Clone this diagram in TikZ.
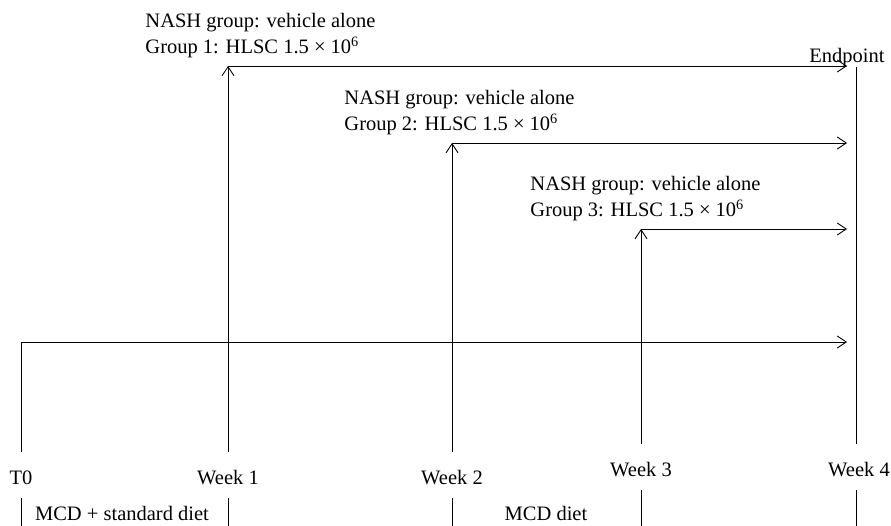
\documentclass[tikz,border=0pt]{standalone}
\usepackage{fontspec}
\setmainfont{Liberation Serif}
\usetikzlibrary{arrows.meta}
\begin{document}
\begin{tikzpicture}[
    x=1pt,y=-1pt,line width=.9pt,
    every node/.style={font=\fontsize{20.5}{25}\selectfont,inner sep=0pt},
    tip/.style={-{Straight Barb[length=9pt,width=12pt]}}]
    \useasboundingbox (0,0) rectangle (891,526);
    \foreach \name/\x/\tx/\lo/\bar/\txt in
        {t0/21/21/452/498/T0, w1/228/228/452/498/Week 1, w2/452/452/452/498/Week 2,
         w3/641/641/444/490/Week 3, w4/856/859/444/490/Week 4} {
        \node[anchor=base] (\name) at (\tx,{\lo+32}) {\txt};
        \coordinate (\name low) at (\x,\lo);
        \coordinate (\name bar) at (\x,\bar);
        \coordinate (\name end) at (\x,526);
        \draw (\name bar) -- (\name end);
    }
    \foreach \n/\x/\y/\lx in {1/228/66/145, 2/452/143/344, 3/641/229/530} {
        \node[anchor=base west] (nash\n) at (\lx,{\y-38}) {NASH group: vehicle alone};
        \node[anchor=base west] (grp\n) at (\lx,{\y-12})
            {Group \n: HLSC 1.5 × 10\textsuperscript{6}};
        \coordinate (start\n) at (\x,\y);
        \coordinate (stop\n) at (847,\y);
        \draw[tip] (start\n) -- (stop\n);
    }
    \draw[tip] (w1low) -- (start1);
    \draw[tip] (w2low) -- (start2);
    \draw[tip] (w3low) -- (start3);
    \coordinate (start0) at (21,342);
    \coordinate (stop0) at (847,342);
    \draw (t0low) -- (start0);
    \draw[tip] (start0) -- (stop0);
    \coordinate (w4top) at (856,67);
    \draw (w4low) -- (w4top);
    \node[anchor=base] (endpoint) at (847,63) {Endpoint};
    \node[anchor=base] (mcdstd) at (122,520) {MCD + standard diet};
    \node[anchor=base] (mcd) at (546,520) {MCD diet};
\end{tikzpicture}
\end{document}
